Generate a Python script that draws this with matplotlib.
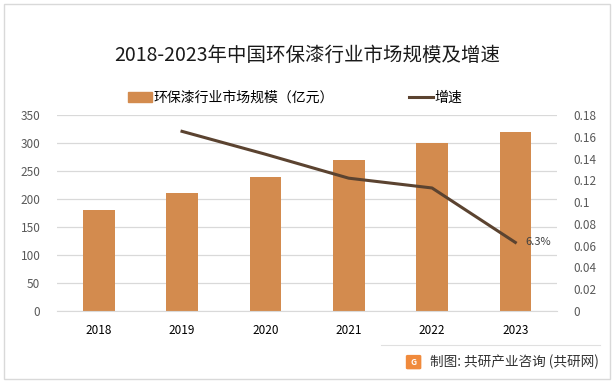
import matplotlib.pyplot as plt
from matplotlib.lines import Line2D
from matplotlib.patches import Rectangle, FancyBboxPatch

plt.rcParams['font.family'] = ['Noto Sans CJK SC', 'DejaVu Sans']

years = ['2018', '2019', '2020', '2021', '2022', '2023']
scale = [180, 210, 240, 270, 300, 320]
growth_years = ['2019', '2020', '2021', '2022', '2023']
growth = [0.165, 0.144, 0.122, 0.113, 0.063]

bar_color = '#D38B4E'
line_color = '#5B4330'
grid_color = '#D9D9D9'
tick_color = '#595959'

fig = plt.figure(figsize=(6.15, 3.84), dpi=100)
ax = fig.add_axes([0.0927, 0.19, 0.813, 0.5105])
ax2 = ax.twinx()

x = list(range(len(years)))
ax.bar(x, scale, width=0.38, color=bar_color, zorder=2)
gx = [years.index(y) for y in growth_years]
ax2.plot(gx, growth, color=line_color, lw=2.2, zorder=3)
ax2.annotate('6.3%', (gx[-1], growth[-1]), xytext=(7, 0), textcoords='offset points',
             va='center', ha='left', fontsize=8, color='#404040')

ax.set_xlim(-0.5, 5.5)
ax.set_ylim(0, 350)
ax.set_yticks(range(0, 351, 50))
ax2.set_ylim(0, 0.18)
ax2.set_yticks([i * 0.02 for i in range(10)])
ax2.set_yticklabels(['0', '0.02', '0.04', '0.06', '0.08', '0.1', '0.12', '0.14', '0.16', '0.18'])
ax.set_xticks(x)
ax.set_xticklabels(years)

ax.grid(axis='y', color=grid_color, lw=0.9, zorder=0)
ax.set_axisbelow(True)
for a in (ax, ax2):
    for s in a.spines.values():
        s.set_visible(False)
    a.tick_params(length=0, labelsize=8.5, colors=tick_color)
ax.spines['bottom'].set_visible(True)
ax.spines['bottom'].set_color(grid_color)
ax.tick_params(axis='x', colors='black', pad=9)
ax.tick_params(axis='y', pad=12)
ax2.tick_params(axis='y', pad=12)

fig.text(0.5, 0.855, '2018-2023年中国环保漆行业市场规模及增速', ha='center', va='center',
         fontsize=14, color='#1a1a1a')

handles = [Rectangle((0, 0), 1, 1, color=bar_color),
           Line2D([0], [0], color=line_color, lw=2.2)]
fig.legend(handles, ['环保漆行业市场规模（亿元）', '增速'], loc='center left',
           bbox_to_anchor=(0.208, 0.745), ncol=2, frameon=False, fontsize=10,
           handlelength=1.7, handletextpad=0.15, columnspacing=5.4,
           borderpad=0, borderaxespad=0)

# outer frame and footer
fig.patches.append(Rectangle((0.007, 0.012), 0.985, 0.978, transform=fig.transFigure,
                             fill=False, edgecolor='#D9D9D9', lw=1))
fig.lines.append(Line2D([0.62, 0.975], [0.102, 0.102], transform=fig.transFigure,
                        color='#E0E0E0', lw=0.8))
fig.patches.append(FancyBboxPatch((0.663, 0.042), 0.019, 0.03, transform=fig.transFigure,
                                  boxstyle='round,pad=0.002', color='#F08A3C'))
fig.text(0.6725, 0.057, 'G', ha='center', va='center', fontsize=6, color='white',
         fontweight='bold')
fig.text(0.974, 0.058, '制图: 共研产业咨询 (共研网)', ha='right', va='center',
         fontsize=9.8, color='#333333')

fig.savefig('out.png', dpi=100)
